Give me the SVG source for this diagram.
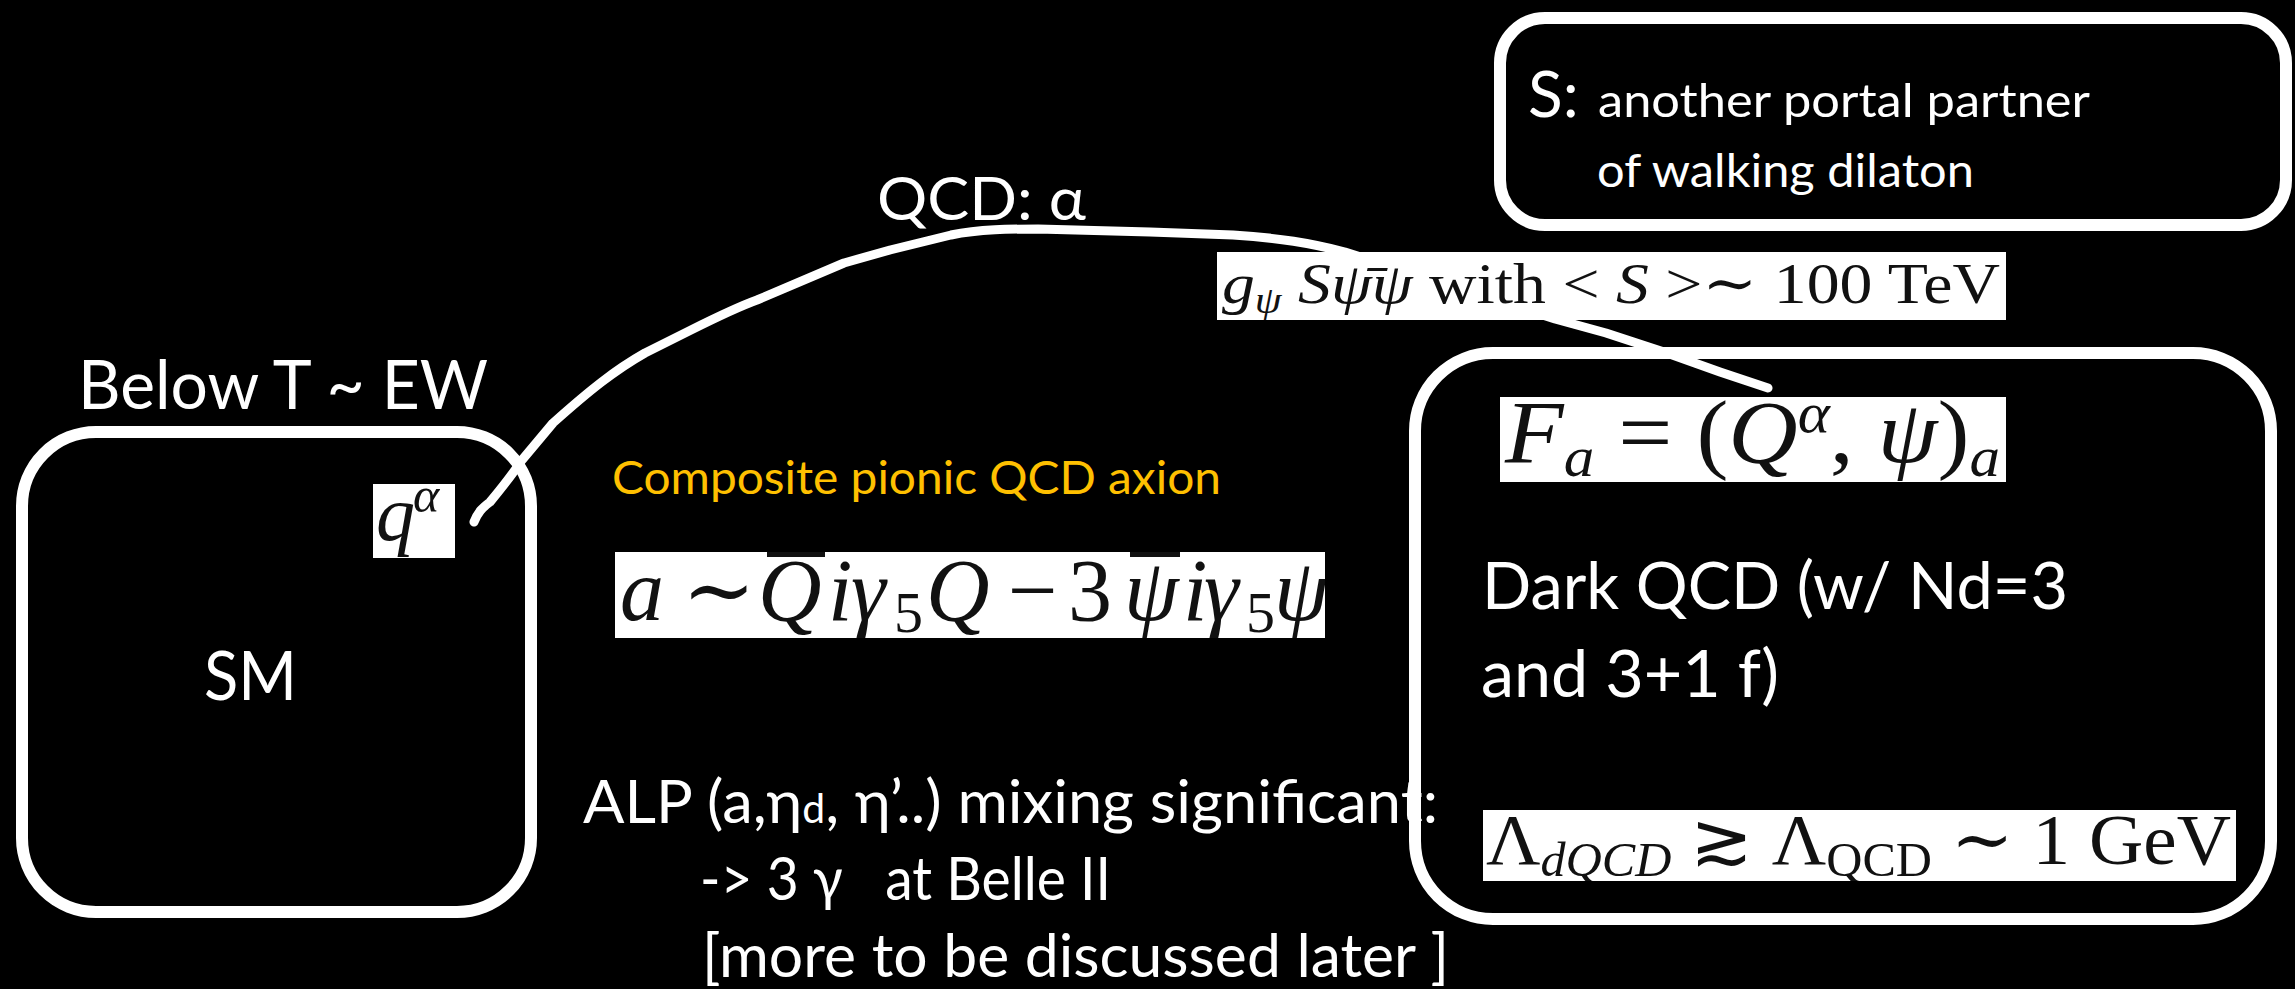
<svg xmlns="http://www.w3.org/2000/svg" width="2295" height="989" viewBox="0 0 2295 989">
<defs>
<style>
.bg{fill:#000}
.box{fill:none;stroke:#fff;stroke-width:12}
.wire{fill:none;stroke:#fff;stroke-width:9;stroke-linecap:round;stroke-linejoin:round}
.t{font-family:Lato,"Open Sans","Liberation Sans",sans-serif;fill:#fff}
.o{font-family:Lato,"Open Sans","Liberation Sans",sans-serif;fill:#FFC000}
.img{fill:#fff}
.m{font-family:"Liberation Serif","DejaVu Serif",serif;font-style:normal;fill:#111}
.mi{font-family:"Liberation Serif","DejaVu Serif",serif;font-style:italic;fill:#111}
</style>
<clipPath id="cq"><rect x="373" y="484" width="82" height="74"/></clipPath>
<clipPath id="cg"><rect x="1217" y="252" width="789" height="68"/></clipPath>
<clipPath id="ca"><rect x="615" y="552" width="710" height="86"/></clipPath>
<clipPath id="cf"><rect x="1500" y="397" width="506" height="85"/></clipPath>
<clipPath id="cl"><rect x="1483" y="810" width="753" height="71"/></clipPath>
</defs>
<rect class="bg" x="0" y="0" width="2295" height="989"/>

<g id="connectors">
<path class="wire" d="M474,522 C478,512 482,508 490,502 C500,490 510,478 522,460 L553,423 C590,390 615,370 645,353 L691,330 C715,318 735,308 757,300 L844,263 L890,250 L951,235 C980,229 1010,229 1038,229 L1150,232 L1233,235 C1280,238 1310,243 1345,252 L1555,319 L1606,333 L1664,352 L1720,372 L1768,388"/>
</g>

<g id="label-below">
<text class="t" x="78" y="409" font-size="67" textLength="410" lengthAdjust="spacingAndGlyphs">Below T ~ EW</text>
</g>

<g id="node-sm">
<rect class="box" x="22" y="432" width="509" height="480" rx="74"/>
<text class="t" x="204" y="700" font-size="67" textLength="93" lengthAdjust="spacingAndGlyphs">SM</text>
<g id="q-alpha">
<rect class="img" x="373" y="484" width="82" height="74"/>
<g clip-path="url(#cq)">
<text class="mi" x="376" y="540" font-size="78">q</text>
<text class="mi" x="413" y="512" font-size="50">α</text>
</g>
</g>
</g>

<g id="label-qcd">
<text class="t" x="877" y="220" font-size="60" textLength="209" lengthAdjust="spacingAndGlyphs">QCD: α</text>
</g>

<g id="node-s">
<rect class="box" x="1500" y="18" width="786" height="207" rx="45"/>
<text class="t" x="1528" y="117" font-size="64">S:</text>
<text class="t" x="1598" y="117" font-size="47" textLength="492" lengthAdjust="spacingAndGlyphs">another portal partner</text>
<text class="t" x="1597" y="187" font-size="47" textLength="377" lengthAdjust="spacingAndGlyphs">of walking dilaton</text>
</g>

<g id="formula-g">
<rect class="img" x="1217" y="252" width="789" height="68"/>
<g clip-path="url(#cg)">
<text class="m" x="1222" y="303" font-size="58" textLength="778" lengthAdjust="spacingAndGlyphs"><tspan class="mi">g</tspan><tspan class="mi" font-size="38" dy="10">ψ</tspan><tspan class="mi" dy="-10"> Sψ̄ψ</tspan> with &lt; <tspan class="mi">S</tspan> &gt;∼ 100 TeV</text>
</g>
</g>

<g id="label-composite">
<text class="o" x="612" y="494" font-size="46" textLength="609" lengthAdjust="spacingAndGlyphs">Composite pionic QCD axion</text>
</g>

<g id="formula-a">
<rect class="img" x="615" y="552" width="710" height="86"/>
<g clip-path="url(#ca)">
<text class="mi" y="620" font-size="88"><tspan x="620">a</tspan><tspan class="m" x="682">∼</tspan><tspan x="758">Q</tspan><tspan x="828">i</tspan><tspan x="851">γ</tspan><tspan class="m" x="894" font-size="58" dy="12">5</tspan><tspan x="926" dy="-12">Q</tspan><tspan class="m" x="1008">−</tspan><tspan class="m" x="1068">3</tspan><tspan x="1124">ψ</tspan><tspan x="1183">i</tspan><tspan x="1204">γ</tspan><tspan class="m" x="1246" font-size="58" dy="12">5</tspan><tspan x="1274" dy="-12">ψ</tspan></text>
</g>
<rect x="767" y="552" width="58" height="5" fill="#111"/>
<rect x="1130" y="552" width="50" height="5" fill="#111"/>
</g>

<g id="label-alp">
<text class="t" x="583" y="823" font-size="60" textLength="855" lengthAdjust="spacingAndGlyphs">ALP (a,η<tspan font-size="40">d</tspan>, η’..) mixing significant:</text>
<text class="t" x="700" y="900" font-size="60" xml:space="preserve" textLength="411" lengthAdjust="spacingAndGlyphs">-&gt; 3 γ   at Belle II</text>
<text class="t" x="702" y="977" font-size="60" textLength="747" lengthAdjust="spacingAndGlyphs">[more to be discussed later ]</text>
</g>

<g id="node-dark">
<rect class="box" x="1415" y="353" width="856" height="566" rx="78"/>
<g id="formula-f">
<rect class="img" x="1500" y="397" width="506" height="85"/>
<g clip-path="url(#cf)">
<text class="mi" x="1505" y="462" font-size="88" textLength="495" lengthAdjust="spacingAndGlyphs">F<tspan font-size="56" dy="14">a</tspan><tspan class="m" dy="-14"> = (</tspan>Q<tspan font-size="56" dy="-30">α</tspan><tspan class="m" dy="30">, </tspan>ψ<tspan class="m">)</tspan><tspan font-size="56" dy="14">a</tspan></text>
</g>
</g>
<text class="t" x="1482" y="609" font-size="65" textLength="586" lengthAdjust="spacingAndGlyphs">Dark QCD (w/ Nd=3</text>
<text class="t" x="1481" y="697" font-size="65" textLength="298" lengthAdjust="spacingAndGlyphs">and 3+1 f)</text>
<g id="formula-l">
<rect class="img" x="1483" y="810" width="753" height="71"/>
<g clip-path="url(#cl)">
<text class="m" x="1486" y="864" font-size="72" textLength="745" lengthAdjust="spacingAndGlyphs">Λ<tspan class="mi" font-size="48" dy="12">dQCD</tspan><tspan dy="-12"> ≳ Λ</tspan><tspan font-size="48" dy="12">QCD</tspan><tspan dy="-12"> ∼ 1 GeV</tspan></text>
</g>
</g>
</g>
</svg>
